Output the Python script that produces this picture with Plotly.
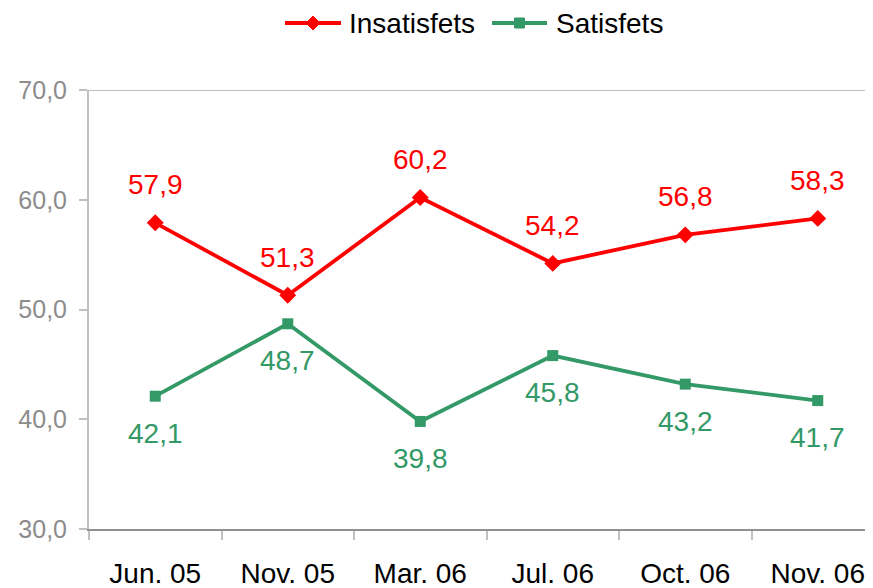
import plotly.graph_objects as go

categories = ["Jun. 05", "Nov. 05", "Mar. 06", "Jul. 06", "Oct. 06", "Nov. 06"]
insatisfets = [57.9, 51.3, 60.2, 54.2, 56.8, 58.3]
satisfets = [42.1, 48.7, 39.8, 45.8, 43.2, 41.7]
y_ticks = [30, 40, 50, 60, 70]
series_names = ["Insatisfets", "Satisfets"]

FONT = "Liberation Sans, Arial, sans-serif"
RED = "#ff0000"
GREEN = "#339966"

# page body has an 8px margin; compensate so the window matches the reference
OFF = 8
W, H = 873, 588
ML, MR, MT, MB = 89 - OFF, 0, 90 - OFF, 59 + OFF
PW, PH = W - ML - MR, H - MT - MB

def px_to_paper(px, py):
    # px, py are window pixel coordinates
    return (px - OFF - ML) / PW, (H - MB - (py - OFF)) / PH

fig = go.Figure()
fig.add_trace(go.Scatter(
    x=categories, y=insatisfets, name=series_names[0], mode="lines+markers",
    line=dict(color=RED, width=3.8),
    marker=dict(symbol="diamond", size=13, color=RED),
    cliponaxis=False, showlegend=False,
))
fig.add_trace(go.Scatter(
    x=categories, y=satisfets, name=series_names[1], mode="lines+markers",
    line=dict(color=GREEN, width=3.8),
    marker=dict(symbol="square", size=11, color=GREEN),
    cliponaxis=False, showlegend=False,
))

# data labels
for c, v in zip(categories, insatisfets):
    fig.add_annotation(x=c, y=v, text=f"{v:.1f}".replace(".", ","), showarrow=False,
                       yshift=38, font=dict(family=FONT, size=28, color=RED))
for c, v in zip(categories, satisfets):
    fig.add_annotation(x=c, y=v, text=f"{v:.1f}".replace(".", ","), showarrow=False,
                       yshift=-37, font=dict(family=FONT, size=28, color=GREEN))

fig.update_layout(
    width=W, height=H,
    margin=dict(l=ML, r=MR, t=MT, b=MB),
    paper_bgcolor="white", plot_bgcolor="white",
    separators=",.",
    font=dict(family=FONT, size=28, color="black"),
    showlegend=False,
)
fig.update_xaxes(
    type="category", range=[-0.5, -0.5 + PW / 132.5], automargin=False,
    showgrid=False, showline=True, linecolor="#909090", linewidth=2,
    ticks="outside", tickson="boundaries", ticklen=9, tickcolor="#c0c0c0", tickwidth=2,
    ticklabelstandoff=18,
    tickfont=dict(family=FONT, size=28, color="black"),
    zeroline=False,
)
fig.update_yaxes(
    range=[30, 70], tickvals=y_ticks, tickformat=".1f", automargin=False,
    showgrid=False, showline=True, linecolor="#c0c0c0", linewidth=2,
    ticks="outside", ticklen=8, tickcolor="#c0c0c0", tickwidth=2,
    ticklabelstandoff=7,
    tickfont=dict(family=FONT, size=25, color="#8c8c8c"),
    zeroline=False,
)
# top border line at 70
fig.add_shape(type="line", xref="paper", yref="y", x0=0, x1=1, y0=70, y1=70,
              line=dict(color="#c0c0c0", width=2))

# manual legend
legend_items = [
    (series_names[0], RED, 285, 341, "M -7 0 L 0 7 L 7 0 L 0 -7 Z", 347),
    (series_names[1], GREEN, 492, 547, "M -5 -5 L 5 -5 L 5 5 L -5 5 Z", 554),
]
ly = 23
for name, col, x0, x1, path, tx in legend_items:
    a0, b0 = px_to_paper(x0, ly)
    a1, _ = px_to_paper(x1, ly)
    fig.add_shape(type="line", xref="paper", yref="paper", x0=a0, x1=a1, y0=b0, y1=b0,
                  line=dict(color=col, width=4))
    ma, _ = px_to_paper((x0 + x1) / 2, ly)
    fig.add_shape(type="path", xref="paper", yref="paper", xsizemode="pixel", ysizemode="pixel",
                  xanchor=ma, yanchor=b0, path=path, fillcolor=col, line=dict(color=col, width=1))
    ta, _ = px_to_paper(tx, ly)
    fig.add_annotation(xref="paper", yref="paper", x=ta, y=b0, xanchor="left", yanchor="middle",
                       text=name, showarrow=False, font=dict(family=FONT, size=28, color="black"))

fig.write_html("out.html")
